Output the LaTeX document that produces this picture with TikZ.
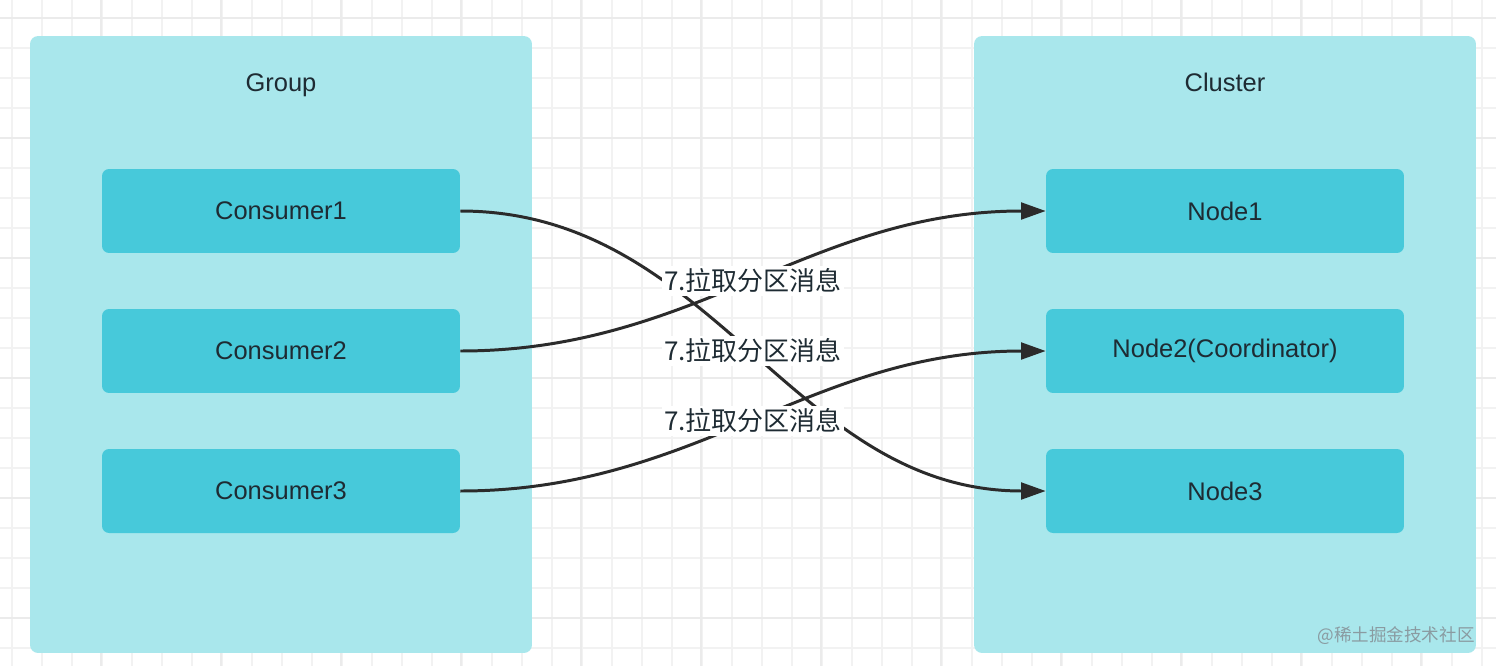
\documentclass[tikz,border=0pt]{standalone}
\usepackage{fontspec}
\setmainfont{Liberation Sans}
\newfontfamily\cjk{Noto Sans CJK SC}
\usetikzlibrary{arrows.meta}
\definecolor{grpfill}{HTML}{A9E7EC}
\definecolor{boxfill}{HTML}{47C9DA}
\definecolor{inktext}{HTML}{1E2B33}
\definecolor{inkline}{HTML}{2B2B2B}
\definecolor{gridminor}{HTML}{F2F2F2}
\definecolor{gridmajor}{HTML}{EBEBEB}
\definecolor{wmgray}{HTML}{8A9BA1}

\begin{document}
\begin{tikzpicture}[
  x=0.02cm, y=-0.02cm,
  font=\fontsize{14.5pt}{17pt}\selectfont, text=inktext,
  grp/.style={fill=grpfill, rounded corners=4.5pt, minimum width=10.04cm, minimum height=12.34cm, inner sep=0pt},
  box/.style={fill=boxfill, rounded corners=4pt, minimum width=7.16cm, minimum height=1.68cm, inner sep=0pt},
  title/.style={inner sep=0pt, text height=10.5pt, text depth=0pt},
  lbl/.style={fill=white, inner sep=1.5pt, font=\fontsize{14.8pt}{17pt}\cjk},
  wm/.style={inner sep=0pt, text=wmgray, font=\fontsize{10pt}{12pt}\cjk},
  gridln/.style={draw=gridminor, line width=1pt},
  gridmaj/.style={draw=gridmajor, line width=1.1pt},
  arr/.style={-{Triangle[length=14pt, width=9.5pt]}, line width=1.7pt, draw=inkline},
]
\useasboundingbox (0,0) rectangle (1496,666);
\fill[white] (0,0) rectangle (1496,666);

% grid paper
\foreach \k in {0,...,49} \draw[gridln] ({11.7+30*\k},0) -- ({11.7+30*\k},666);
\foreach \k in {0,...,22} \draw[gridln] (0,{18+30*\k}) -- (1496,{18+30*\k});
\foreach \k in {0,...,12} \draw[gridmaj] ({101+120*\k},0) -- ({101+120*\k},666);
\foreach \k in {0,...,5} \draw[gridmaj] (0,{18+120*\k}) -- (1496,{18+120*\k});

\node[grp] (group) at (281,344.5) {};
\node[grp] (cluster) at (1225,344.5) {};
\node[title] (grouptitle) at (281,82) {Group};
\node[title] (clustertitle) at (1225,82) {Cluster};

\node[box] (c1) at (281,211) {Consumer1};
\node[box] (c2) at (281,351) {Consumer2};
\node[box] (c3) at (281,491) {Consumer3};

\node[box] (n1) at (1225,211) {Node1};
\node[box] (n2) at (1225,351) {Node2(Coordinator)};
\node[box] (n3) at (1225,491) {Node3};

\draw[arr] (c1.east) to[out=0, in=180] coordinate[pos=0.5] (m1) (n3.west);
\draw[arr] (c2.east) to[out=0, in=180] coordinate[pos=0.5] (m2) (n1.west);
\draw[arr] (c3.east) to[out=0, in=180] coordinate[pos=0.5] (m3) (n2.west);

\node[lbl] (l2) at (m2) {7.拉取分区消息};
\node[lbl] (l1) at (m1) {7.拉取分区消息};
\node[lbl] (l3) at (m3) {7.拉取分区消息};

\node[wm] (mark) at (1396,636) {@稀土掘金技术社区};
\end{tikzpicture}
\end{document}
